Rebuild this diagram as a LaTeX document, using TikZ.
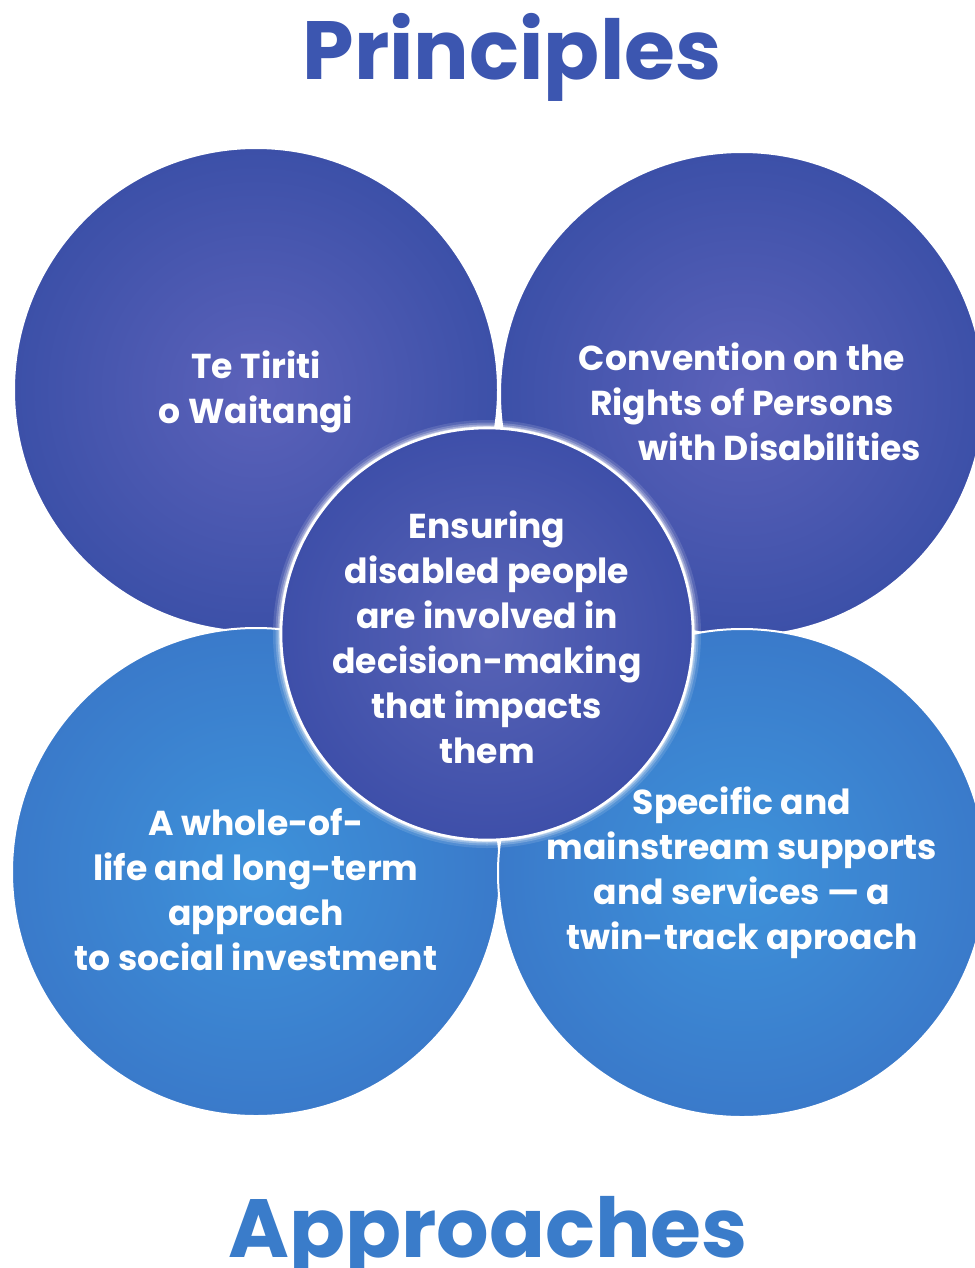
\documentclass[tikz,border=0pt]{standalone}
\usepackage{fontspec}
\setmainfont{Poppins}
\definecolor{titleA}{RGB}{60,86,176}
\definecolor{titleB}{RGB}{58,124,202}
\definecolor{topOut}{RGB}{60,80,168}
\definecolor{topIn}{RGB}{92,98,186}
\definecolor{botOut}{RGB}{58,122,202}
\definecolor{botIn}{RGB}{62,146,218}
\definecolor{midOut}{RGB}{62,79,169}
\definecolor{midIn}{RGB}{88,99,182}
\tikzset{
  topcirc/.style={shading=radial, inner color=topIn, outer color=topOut, draw=white, line width=1pt},
  botcirc/.style={shading=radial, inner color=botIn, outer color=botOut, draw=white, line width=1pt},
  midcirc/.style={shading=radial, inner color=midIn, outer color=midOut, draw=white, line width=1.3pt},
  circtext/.style={text=white, align=center, font=\fontsize{17.3pt}{22.5pt}\selectfont\bfseries},
  titletext/.style={anchor=base, font=\fontsize{41.3pt}{50pt}\selectfont\bfseries}
}
\begin{document}
\begin{tikzpicture}[x=0.5pt,y=-0.5pt]
\useasboundingbox[fill=white] (0,0) rectangle (974,1268);
% titles
\node[titletext, text=titleA] (principles) at (512,80) {Principles};
\node[titletext, text=titleB] (approaches) at (488,1257) {Approaches};
% top circles
\shade[topcirc] (256,390) circle [radius=121pt];
\shade[topcirc] (742,394) circle [radius=121pt];
% bottom circles
\shade[botcirc] (256,872) circle [radius=122pt];
\shade[botcirc] (742,873) circle [radius=122pt];
% glow of centre circle
\foreach \w/\o in {16/0.12,11/0.2,7/0.3,4/0.45}{
  \draw[white, opacity=\o, line width=\w*0.5pt] (487,634) circle [radius=103pt];
}
\shade[midcirc] (487,634) circle [radius=103pt];
% texts
\node[circtext] (tl) at (256,392) {Te Tiriti\\o Waitangi};
\node[circtext] (tr) at (742,402) {Convention on the\\Rights of Persons\\\hspace*{38pt}with Disabilities};
\node[circtext] (mid) at (487,637) {Ensuring\\disabled people\\are involved in\\decision-making\\that impacts\\them};
\node[circtext] (bl) at (256,890) {A whole-of-\\life and long-term\\approach\\to social investment};
\node[circtext] (br) at (742,873) {Specific and\\mainstream supports\\and services --- a\\twin-track aproach};
\end{tikzpicture}
\end{document}
